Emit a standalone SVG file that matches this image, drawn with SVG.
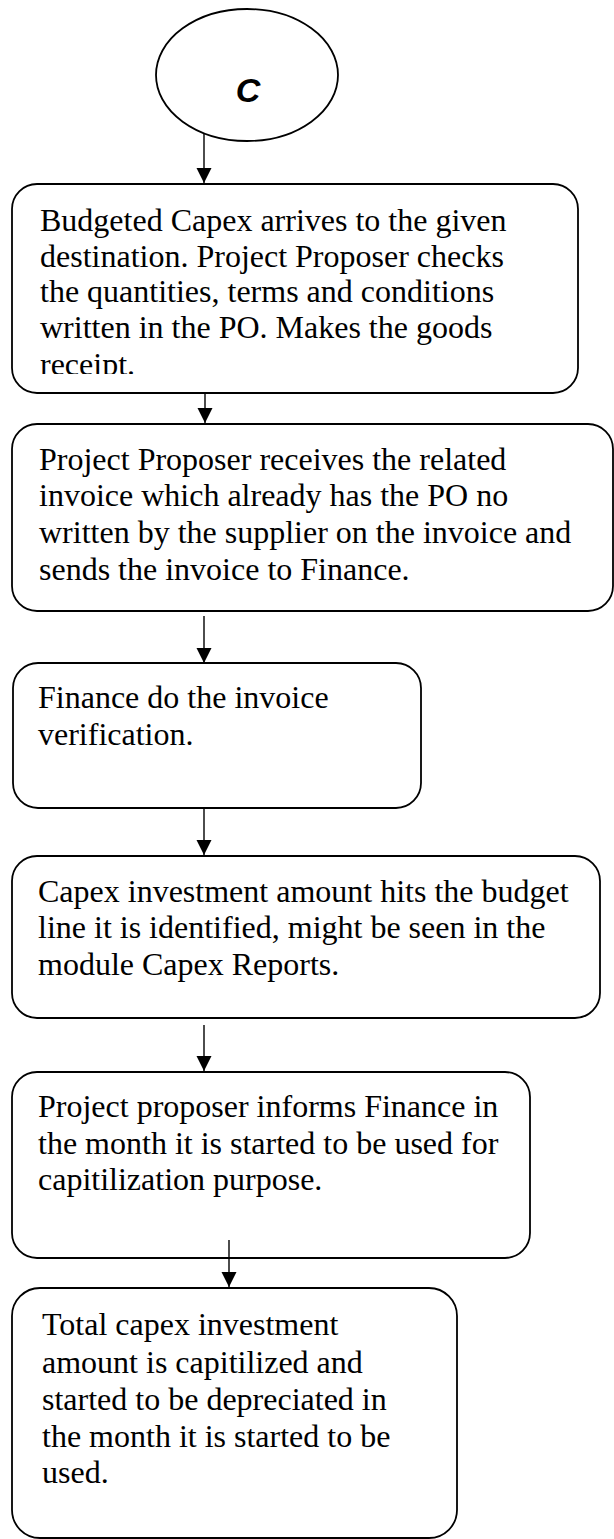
<svg xmlns="http://www.w3.org/2000/svg" width="614" height="1539" viewBox="0 0 614 1539">
  <style>
    .box { fill: #ffffff; stroke: #000000; stroke-width: 1.8; }
    .lbl { font-family: "Liberation Serif", "Times New Roman", serif; font-size: 32px; fill: #000000; }
    .start { font-family: "Liberation Sans", Arial, sans-serif; font-size: 34px; font-weight: bold; font-style: italic; fill: #000000; }
    .conn { stroke: #000000; stroke-width: 1.4; fill: none; marker-end: url(#arrow); }
  </style>
  <defs>
    <marker id="arrow" markerUnits="userSpaceOnUse" markerWidth="16" markerHeight="16" refX="15" refY="7.5" orient="auto">
      <path d="M0,0 L15,7.5 L0,15 Z" fill="#000000"/>
    </marker>
    <!-- the last line of the first box is cut off at its baseline -->
    <clipPath id="clip-receipt">
      <rect x="12" y="184" width="566" height="190"/>
    </clipPath>
  </defs>

  <rect width="614" height="1539" fill="#ffffff"/>

  <!-- off-page connector C -->
  <g id="node-c">
    <ellipse cx="247" cy="75" rx="91" ry="66" class="box"/>
    <text x="248" y="102" text-anchor="middle" class="start">C</text>
  </g>

  <g id="node-goods-receipt">
    <rect x="12" y="184" width="566" height="209" rx="25" ry="25" class="box"/>
    <text class="lbl" clip-path="url(#clip-receipt)">
      <tspan x="40" y="231">Budgeted Capex arrives to the given</tspan>
      <tspan x="40" y="267">destination. Project Proposer checks</tspan>
      <tspan x="40" y="302">the quantities, terms and conditions</tspan>
      <tspan x="40" y="338">written in the PO. Makes the goods</tspan>
      <tspan x="40" y="375">receipt.</tspan>
    </text>
  </g>

  <g id="node-invoice">
    <rect x="12" y="424" width="601" height="187" rx="25" ry="25" class="box"/>
    <text class="lbl">
      <tspan x="39" y="470">Project Proposer receives the related</tspan>
      <tspan x="39" y="506">invoice which already has the PO no</tspan>
      <tspan x="39" y="543">written by the supplier on the invoice and</tspan>
      <tspan x="39" y="580">sends the invoice to Finance.</tspan>
    </text>
  </g>

  <g id="node-verification">
    <rect x="13" y="663" width="408" height="145" rx="25" ry="25" class="box"/>
    <text class="lbl">
      <tspan x="38" y="708">Finance do the invoice</tspan>
      <tspan x="38" y="745">verification.</tspan>
    </text>
  </g>

  <g id="node-budget-line">
    <rect x="12" y="856" width="588" height="162" rx="25" ry="25" class="box"/>
    <text class="lbl">
      <tspan x="38" y="902">Capex investment amount hits the budget</tspan>
      <tspan x="38" y="938">line it is identified, might be seen in the</tspan>
      <tspan x="38" y="975">module Capex Reports.</tspan>
    </text>
  </g>

  <g id="node-inform-finance">
    <rect x="12" y="1072" width="518" height="186" rx="25" ry="25" class="box"/>
    <text class="lbl">
      <tspan x="38" y="1117">Project proposer informs Finance in</tspan>
      <tspan x="38" y="1154">the month it is started to be used for</tspan>
      <tspan x="38" y="1190">capitilization purpose.</tspan>
    </text>
  </g>

  <g id="node-capitalized">
    <rect x="12" y="1288" width="445" height="250" rx="28" ry="28" class="box"/>
    <text class="lbl">
      <tspan x="42" y="1335">Total capex investment</tspan>
      <tspan x="42" y="1373">amount is capitilized and</tspan>
      <tspan x="42" y="1410">started to be depreciated in</tspan>
      <tspan x="42" y="1447">the month it is started to be</tspan>
      <tspan x="42" y="1483">used.</tspan>
    </text>
  </g>

  <g id="connectors">
    <line x1="204" y1="134" x2="204" y2="183" class="conn"/>
    <line x1="205" y1="393" x2="205" y2="423" class="conn"/>
    <line x1="204" y1="616" x2="204" y2="663" class="conn"/>
    <line x1="204" y1="808" x2="204" y2="855" class="conn"/>
    <line x1="204" y1="1025" x2="204" y2="1071" class="conn"/>
    <line x1="229" y1="1240" x2="229" y2="1287" class="conn"/>
  </g>
</svg>
